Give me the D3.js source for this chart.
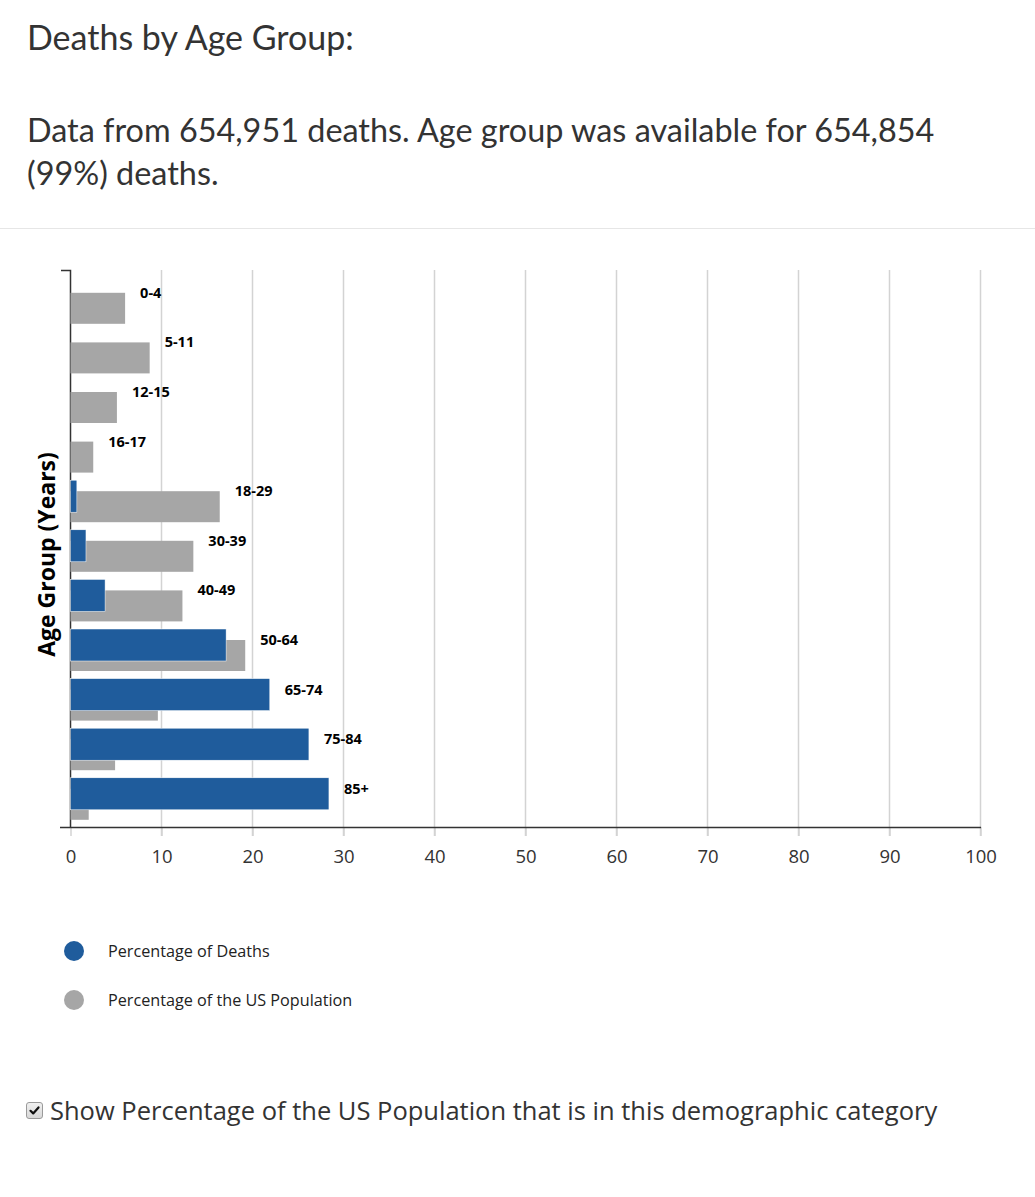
<!DOCTYPE html>
<html>
<head>
<meta charset="utf-8">
<script src="https://cdn.jsdelivr.net/npm/d3@7"></script>
<style>
  body { margin: 0; background: #fff; font-family: "Open Sans", sans-serif; color: #333; }
  .title { position: absolute; left: 27px; top: 16px; font-family: Lato, sans-serif; font-size: 34px; color: #333; white-space: nowrap; }
  .subtitle { position: absolute; left: 27px; top: 108px; width: 930px; font-family: Lato, sans-serif; font-size: 32.4px; line-height: 43px; color: #333; }
  .sep { position: absolute; left: 0; top: 228px; width: 1035px; height: 1px; background: #e6e6e6; }
  #chart { position: absolute; left: 0; top: 240px; }
  .toggle { position: absolute; left: 26px; top: 1093px; font-size: 25.5px; color: #333; display: flex; align-items: center; white-space: nowrap; }
  .box { width: 17px; height: 17px; margin-right: 7px; border: 1px solid #9a9a9a; border-radius: 3px;
         background: linear-gradient(#f0f0f0, #d8d8d8); box-sizing: border-box; display: inline-block; position: relative; }
  .box svg { position: absolute; left: 1px; top: 1px; }
</style>
</head>
<body>
<div class="title">Deaths by Age Group:</div>
<div class="subtitle">Data from 654,951 deaths. Age group was available for 654,854 (99%) deaths.</div>
<div class="sep"></div>
<div id="chart"></div>
<div class="toggle"><span class="box"><svg width="13" height="13" viewBox="0 0 13 13"><path d="M2.5,6.8 L5.2,9.4 L10.5,3.4" fill="none" stroke="#111" stroke-width="2.2" stroke-linecap="round" stroke-linejoin="round"/></svg></span>Show Percentage of the US Population that is in this demographic category</div>
<script>
// Data
const ageGroups = ["0-4", "5-11", "12-15", "16-17", "18-29", "30-39", "40-49", "50-64", "65-74", "75-84", "85+"];
const pctDeaths = [0, 0, 0, 0, 0.7, 1.7, 3.8, 17.1, 21.9, 26.2, 28.4];
const pctPopulation = [6.0, 8.7, 5.1, 2.5, 16.4, 13.5, 12.3, 19.2, 9.6, 4.9, 2.0];
const xTicks = [0, 10, 20, 30, 40, 50, 60, 70, 80, 90, 100];
const legendLabels = ["Percentage of Deaths", "Percentage of the US Population"];

const blue = "#1f5c9c";
const grey = "#a6a6a6";

const width = 1035;
const height = 800;
const top0 = 270 - 240;   // chart top inside svg
const bottom0 = 827 - 240;

const svg = d3.select("#chart")
    .append("svg")
    .attr("width", width)
    .attr("height", height);

// Scales
const x = d3.scaleLinear().domain([0, 100]).range([70.5, 980.5]);
const y = d3.scaleBand()
    .domain(ageGroups)
    .range([top0 - 2, top0 - 2 + ageGroups.length * 49.6])
    .padding(0);

// Gridlines
svg.append("g")
    .selectAll("line")
    .data(xTicks.slice(1))
    .join("line")
    .attr("x1", d => x(d)).attr("x2", d => x(d))
    .attr("y1", top0).attr("y2", bottom0 + 9)
    .attr("stroke", "#d3d3d3")
    .attr("stroke-width", 1.5);

// x axis
const xAxis = svg.append("g")
    .attr("transform", `translate(0,${bottom0})`)
    .call(d3.axisBottom(x).tickValues(xTicks).tickSize(9).tickPadding(14));
xAxis.select(".domain").remove();
xAxis.selectAll(".tick line").attr("stroke", "#d3d3d3").attr("stroke-width", 1.5);
xAxis.selectAll(".tick text")
    .attr("font-family", "Open Sans, sans-serif")
    .attr("font-size", 18.5)
    .attr("fill", "#333");
svg.append("line")
    .attr("x1", 60).attr("x2", 981)
    .attr("y1", bottom0 + 0.5).attr("y2", bottom0 + 0.5)
    .attr("stroke", "#333").attr("stroke-width", 1.5);

// y axis line with top tick
svg.append("path")
    .attr("d", `M61,${top0 + 0.5}H70.5V${bottom0}`)
    .attr("fill", "none")
    .attr("stroke", "#333")
    .attr("stroke-width", 1.5);

// Bars
const bands = svg.append("g")
    .selectAll("g")
    .data(ageGroups.map((g, i) => ({ group: g, deaths: pctDeaths[i], pop: pctPopulation[i] })))
    .join("g");

bands.append("rect")
    .attr("x", x(0))
    .attr("y", d => y(d.group) + y.bandwidth() / 2)
    .attr("width", d => x(d.pop) - x(0))
    .attr("height", 31)
    .attr("fill", grey);

bands.filter(d => d.deaths > 0).append("rect")
    .attr("x", x(0))
    .attr("y", d => y(d.group) + y.bandwidth() / 2 - 11)
    .attr("width", d => x(d.deaths) - x(0))
    .attr("height", 32)
    .attr("fill", blue)
    .attr("stroke", "#fff")
    .attr("stroke-width", 0.5);

bands.append("text")
    .attr("x", d => x(Math.max(d.deaths, d.pop)) + 15)
    .attr("y", d => y(d.group) + y.bandwidth() / 2)
    .attr("dy", "0.35em")
    .attr("font-family", "Open Sans, sans-serif")
    .attr("font-weight", "bold")
    .attr("font-size", 14.5)
    .attr("fill", "#000")
    .text(d => d.group);

// y axis title
svg.append("text")
    .attr("transform", `translate(55,${(top0 + bottom0) / 2 + 6}) rotate(-90)`)
    .attr("text-anchor", "middle")
    .attr("font-family", "Open Sans, sans-serif")
    .attr("font-weight", "bold")
    .attr("font-size", 23)
    .attr("fill", "#000")
    .text("Age Group (Years)");

// Legend
const legend = svg.append("g")
    .selectAll("g")
    .data(legendLabels)
    .join("g")
    .attr("transform", (d, i) => `translate(74,${951 - 240 + i * 49})`);
legend.append("circle")
    .attr("r", 10)
    .attr("fill", (d, i) => i === 0 ? blue : grey);
legend.append("text")
    .attr("x", 34)
    .attr("dy", "0.35em")
    .attr("font-family", "Open Sans, sans-serif")
    .attr("font-size", 16.2)
    .attr("fill", "#222")
    .text(d => d);
</script>
</body>
</html>
